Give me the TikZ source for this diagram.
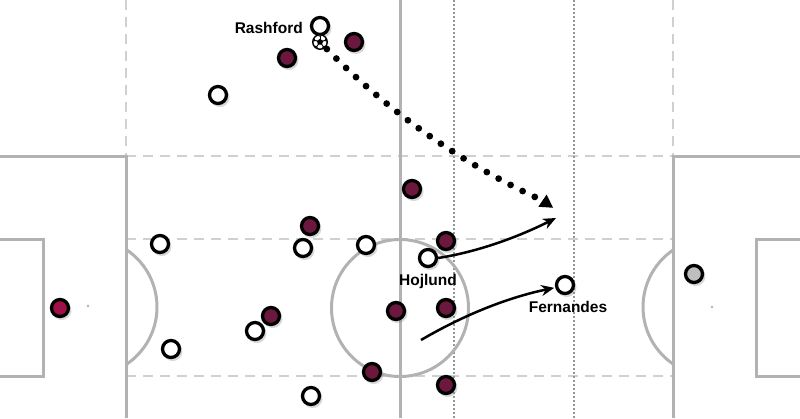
\documentclass[tikz,border=0pt]{standalone}
\usepackage{fontspec}
\setmainfont{Liberation Sans}
\usetikzlibrary{shapes.geometric,shadows,arrows.meta}
\definecolor{teamred}{RGB}{108,24,62}
\definecolor{keeperred}{RGB}{160,16,72}
\definecolor{keepergray}{RGB}{190,190,190}
\definecolor{pitchgray}{RGB}{178,178,178}
\definecolor{dashgray}{RGB}{208,208,208}
\definecolor{dotgray}{RGB}{150,150,150}
\begin{document}
\begin{tikzpicture}[x=1pt,y=-1pt,
  pitchline/.style={draw=pitchgray, line width=3pt},
  zoneline/.style={draw=dashgray, line width=2.5pt, dash pattern=on 10pt off 7pt},
  laneline/.style={draw=dotgray, line width=1.9pt, dash pattern=on 2pt off 2pt},
  player/.style={circle, draw=black, line width=3.3pt, minimum size=17pt, inner sep=0pt,
    drop shadow={shadow xshift=1.5pt, shadow yshift=-2pt, shadow scale=1.15, opacity=0.3}},
  home/.style={player, fill=white},
  away/.style={player, fill=teamred},
  namelabel/.style={font=\bfseries\fontsize{15.5}{18}\selectfont, inner sep=0pt},
  run/.style={draw=black, line width=2.5pt, -{Stealth[length=13pt,width=11pt]}},
  pass/.style={draw=black, line width=6.8pt, line cap=round, dash pattern=on 0pt off 13.5pt, dash phase=3.7pt}
]
\useasboundingbox (0,0) rectangle (800,418);
\clip (0,0) rectangle (800,418);
\fill[white] (0,0) rectangle (800,418);

% zone lines
\draw[zoneline] (126,156) -- (673,156);
\draw[zoneline] (126,239) -- (673,239);
\draw[zoneline] (126,376) -- (673,376);
\draw[zoneline] (126,0) -- (126,156);
\draw[zoneline] (673,0) -- (673,156);
\draw[laneline] (454,0) -- (454,418);
\draw[laneline] (574,0) -- (574,418);

% pitch markings
\draw[pitchline] (400,0) -- (400,418);
\draw[pitchline] (400,308) circle[radius=68.5pt];
\draw[pitchline] (0,156) -- (126,156) -- (126,418);
\draw[pitchline] (0,239) -- (43,239) -- (43,376) -- (0,376);
\draw[pitchline] (800,156) -- (673,156) -- (673,418);
\draw[pitchline] (800,239) -- (756,239) -- (756,376) -- (800,376);
\begin{scope}
  \clip (126,0) rectangle (673,418);
  \draw[pitchline] (88,307) circle[radius=69pt];
  \draw[pitchline] (712,307) circle[radius=69pt];
\end{scope}
\fill[pitchgray] (88,306) circle[radius=1.3pt];
\fill[pitchgray] (712,307) circle[radius=1.3pt];

% pass
\coordinate (ballpos) at (320,42);
\coordinate (passend) at (535,197);
\draw[pass] (ballpos) .. controls (382.7,107.3) and (454.3,159) .. (passend);
\node[regular polygon, regular polygon sides=3, fill=black, minimum size=17pt, inner sep=0pt, rotate=-4] (passtip) at (546,203) {};

% players
\node[home] (rashford) at (320,26) {};
\node[home] (h1) at (218,95) {};
\node[home] (h2) at (160,244) {};
\node[home] (h3) at (303,248) {};
\node[home] (h4) at (366,245) {};
\node[home] (hojlund) at (428,258) {};
\node[home] (h5) at (255,331) {};
\node[home] (h6) at (171,349) {};
\node[home] (h7) at (311,396) {};
\node[home] (fernandes) at (565,285) {};

\node[away] (a1) at (354,42) {};
\node[away] (a2) at (287,58) {};
\node[away] (a3) at (412,189) {};
\node[away] (a4) at (310,226) {};
\node[away] (a5) at (446,241) {};
\node[away] (a6) at (396,311) {};
\node[away] (a7) at (446,308) {};
\node[away] (a8) at (271,316) {};
\node[away] (a9) at (372,372) {};
\node[away] (a10) at (446,385) {};

\node[player, fill=keeperred] (gkleft) at (60,308) {};
\node[player, fill=keepergray] (gkright) at (694,274) {};

% ball
\node[circle, draw=black, fill=white, line width=1.4pt, minimum size=14.5pt, inner sep=0pt] (ball) at (ballpos) {};
\begin{scope}
  \clip (ball.center) circle[radius=6.6pt];
  \node[regular polygon, regular polygon sides=5, fill=black, minimum size=6.5pt, inner sep=0pt] (pent) at (ball.center) {};
  \foreach \a in {90,162,234,306,18} {
    \draw[line width=0.9pt] (pent.center) -- ++(\a:8pt);
    \fill[black] (ball.center) ++(\a:8.2pt) circle[radius=2.9pt];
  }
\end{scope}

% labels
\node[namelabel, anchor=base east] (lrashford) at (303,33) {Rashford};
\node[namelabel, anchor=base] (lhojlund) at (428,285) {Hojlund};
\node[namelabel, anchor=base] (lfernandes) at (568,312) {Fernandes};

% runs
\coordinate (run1end) at (556,218);
\coordinate (run2start) at (421,340);
\draw[run] (hojlund.east) .. controls (474.3,252.4) and (514,239) .. (run1end);
\draw[run, shorten >=1pt] (run2start) .. controls (466,313.7) and (509.7,297.1) .. (fernandes.195);
\end{tikzpicture}
\end{document}
